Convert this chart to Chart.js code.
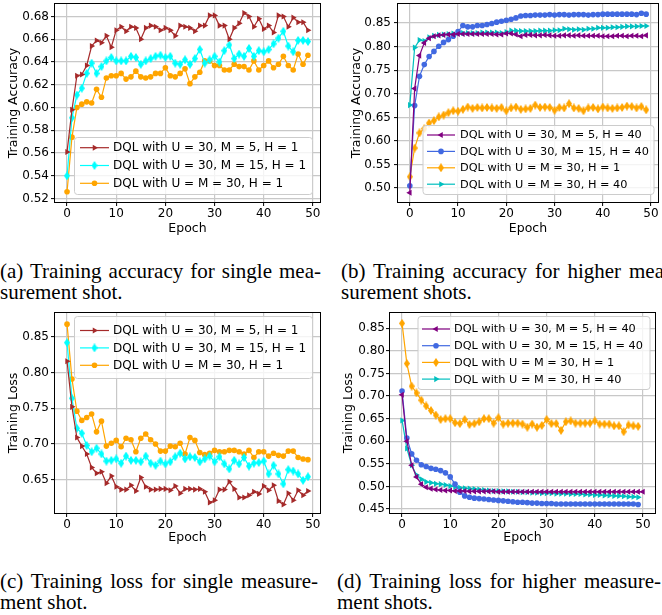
<!DOCTYPE html>
<html lang="en">
<head>
<meta charset="UTF-8">
<title>DQL training accuracy and loss</title>
<script src="https://cdn.jsdelivr.net/npm/chart.js@4.4.1/dist/chart.umd.min.js"></script>
<style>
  body { margin:0; width:662px; height:615px; overflow:hidden; background:#fff; position:relative; }
  canvas { position:absolute; }
  .cap { position:absolute; font-family:"Liberation Serif", serif; font-size:21px; line-height:21px; white-space:nowrap; color:#000; }
  .cap .j { text-align:justify; text-align-last:justify; }
</style>
</head>
<body>

<canvas id="chartA" width="330" height="240" style="left:0;top:0"></canvas>
<canvas id="chartB" width="332" height="240" style="left:330px;top:0"></canvas>
<canvas id="chartC" width="330" height="240" style="left:0;top:305px"></canvas>
<canvas id="chartD" width="332" height="240" style="left:330px;top:305px"></canvas>

<div class="cap" style="left:0;top:261px;width:321px"><div class="j">(a) Training accuracy for single mea-</div><div>surement shot.</div></div>
<div class="cap" style="left:341px;top:261px;width:330px"><div class="j">(b) Training accuracy for higher mea-</div><div>surement shots.</div></div>
<div class="cap" style="left:0;top:571px;width:318px"><div class="j">(c) Training loss for single measure-</div><div>ment shot.</div></div>
<div class="cap" style="left:337px;top:571px;width:324px"><div class="j">(d) Training loss for higher measure-</div><div>ment shots.</div></div>

<script>
// epochs
var epochs = [0,1,2,3,4,5,6,7,8,9,10,11,12,13,14,15,16,17,18,19,20,21,22,23,24,25,26,27,28,29,
              30,31,32,33,34,35,36,37,38,39,40,41,42,43,44,45,46,47,48,49,50];
var epochTicks = [0, 10, 20, 30, 40, 50];

// (a) training accuracy, H = 1
var accA_m5 = [0.561,0.598,0.628,0.629,0.637,0.654,0.659,0.657,0.663,0.653,
               0.668,0.671,0.667,0.671,0.670,0.660,0.670,0.672,0.671,0.668,
               0.670,0.668,0.663,0.672,0.671,0.670,0.667,0.672,0.672,0.681,
               0.681,0.672,0.672,0.660,0.670,0.674,0.683,0.680,0.671,0.678,
               0.669,0.672,0.666,0.681,0.680,0.671,0.679,0.675,0.675,0.668];
var accA_m15 = [0.540,0.591,0.611,0.617,0.630,0.639,0.630,0.636,0.641,0.644,
                0.641,0.641,0.641,0.645,0.644,0.638,0.641,0.643,0.645,0.646,
                0.644,0.645,0.639,0.638,0.642,0.638,0.643,0.651,0.639,0.642,
                0.645,0.640,0.650,0.655,0.643,0.647,0.645,0.652,0.645,0.650,
                0.649,0.651,0.656,0.661,0.667,0.654,0.649,0.659,0.659,0.658];
var accA_m30 = [0.526,0.574,0.600,0.603,0.605,0.604,0.616,0.609,0.626,0.628,
                0.628,0.630,0.625,0.627,0.632,0.627,0.626,0.627,0.630,0.630,
                0.635,0.628,0.627,0.630,0.634,0.621,0.627,0.631,0.641,0.641,
                0.637,0.637,0.633,0.633,0.638,0.636,0.636,0.633,0.641,0.633,
                0.637,0.641,0.635,0.638,0.645,0.637,0.633,0.647,0.638,0.646];
var accTicksA = [0.52,0.54,0.56,0.58,0.60,0.62,0.64,0.66,0.68];

// (b) training accuracy, higher shots
var accB_m5h40 = [0.490,0.711,0.781,0.808,0.818,0.822,0.824,0.825,0.826,0.826,
                  0.827,0.827,0.827,0.827,0.827,0.827,0.827,0.827,0.826,0.826,
                  0.828,0.828,0.826,0.822,0.825,0.825,0.824,0.824,0.825,0.824,
                  0.823,0.823,0.824,0.824,0.823,0.824,0.823,0.823,0.823,0.823,
                  0.822,0.822,0.822,0.823,0.823,0.822,0.823,0.823,0.822,0.824];
var accB_m15h40 = [0.505,0.675,0.737,0.762,0.779,0.790,0.801,0.809,0.815,0.822,
                   0.832,0.845,0.842,0.842,0.845,0.845,0.847,0.849,0.852,0.854,
                   0.856,0.858,0.861,0.865,0.866,0.866,0.867,0.867,0.867,0.868,
                   0.867,0.868,0.868,0.867,0.868,0.868,0.868,0.867,0.868,0.868,
                   0.869,0.869,0.869,0.869,0.869,0.869,0.869,0.868,0.871,0.869];
var accB_m30h1 = [0.524,0.585,0.617,0.626,0.638,0.643,0.651,0.655,0.660,0.664,
                  0.663,0.667,0.672,0.669,0.671,0.670,0.671,0.670,0.669,0.671,
                  0.664,0.670,0.672,0.667,0.668,0.669,0.676,0.671,0.672,0.671,
                  0.665,0.671,0.670,0.679,0.670,0.669,0.664,0.670,0.671,0.668,
                  0.672,0.670,0.669,0.670,0.671,0.674,0.673,0.670,0.673,0.666];
var accB_m30h40 = [0.676,0.798,0.814,0.812,0.820,0.823,0.825,0.826,0.827,0.828,
                   0.829,0.829,0.829,0.829,0.829,0.830,0.830,0.830,0.830,0.829,
                   0.831,0.834,0.834,0.833,0.833,0.833,0.833,0.834,0.834,0.834,
                   0.835,0.835,0.838,0.837,0.836,0.837,0.836,0.838,0.838,0.840,
                   0.840,0.840,0.841,0.841,0.842,0.843,0.843,0.843,0.844,0.844];
var accTicksB = [0.50,0.55,0.60,0.65,0.70,0.75,0.80,0.85];

// (c) training loss, H = 1
var lossC_m5 = [0.816,0.752,0.709,0.697,0.686,0.667,0.659,0.661,0.645,0.655,
                0.640,0.636,0.636,0.642,0.634,0.653,0.640,0.636,0.636,0.637,
                0.637,0.635,0.641,0.631,0.637,0.637,0.636,0.637,0.633,0.618,
                0.621,0.636,0.636,0.647,0.637,0.625,0.625,0.628,0.633,0.630,
                0.641,0.635,0.642,0.620,0.615,0.631,0.621,0.635,0.628,0.634];
var lossC_m15 = [0.842,0.764,0.722,0.715,0.698,0.689,0.694,0.686,0.676,0.677,
                 0.679,0.673,0.683,0.677,0.677,0.675,0.683,0.673,0.670,0.676,
                 0.672,0.675,0.682,0.687,0.679,0.682,0.681,0.675,0.679,0.683,
                 0.675,0.682,0.672,0.665,0.677,0.672,0.681,0.669,0.673,0.674,
                 0.676,0.658,0.670,0.658,0.644,0.664,0.662,0.658,0.649,0.654];
var lossC_m30 = [0.868,0.791,0.746,0.733,0.737,0.742,0.717,0.732,0.697,0.701,
                 0.705,0.696,0.708,0.706,0.689,0.708,0.714,0.706,0.700,0.690,
                 0.690,0.697,0.696,0.701,0.686,0.709,0.705,0.688,0.685,0.687,
                 0.691,0.689,0.689,0.691,0.691,0.689,0.686,0.691,0.681,0.689,
                 0.689,0.683,0.687,0.684,0.683,0.690,0.690,0.681,0.679,0.678];
var lossTicksC = [0.65,0.70,0.75,0.80,0.85];

// (d) training loss, higher shots
var lossD_m5h40 = [0.703,0.600,0.547,0.521,0.505,0.498,0.495,0.493,0.492,0.491,
                   0.491,0.490,0.490,0.490,0.489,0.489,0.489,0.489,0.489,0.489,
                   0.488,0.488,0.488,0.488,0.488,0.488,0.488,0.488,0.488,0.488,
                   0.488,0.488,0.488,0.488,0.488,0.488,0.488,0.488,0.488,0.488,
                   0.488,0.488,0.488,0.488,0.488,0.488,0.488,0.488,0.488,0.488,0.488];
var lossD_m15h40 = [0.711,0.607,0.572,0.558,0.548,0.544,0.540,0.538,0.535,0.530,
                    0.521,0.505,0.487,0.479,0.476,0.474,0.473,0.472,0.471,0.470,
                    0.469,0.468,0.467,0.466,0.465,0.465,0.464,0.463,0.463,0.462,
                    0.462,0.462,0.461,0.461,0.461,0.461,0.461,0.461,0.461,0.461,
                    0.461,0.461,0.461,0.461,0.461,0.461,0.461,0.461,0.461,0.460];
var lossD_m30h1 = [0.861,0.772,0.722,0.707,0.691,0.678,0.668,0.658,0.648,0.650,
                   0.650,0.641,0.639,0.648,0.637,0.639,0.643,0.650,0.650,0.640,
                   0.652,0.638,0.640,0.640,0.640,0.638,0.631,0.638,0.631,0.635,
                   0.648,0.639,0.639,0.624,0.643,0.645,0.640,0.640,0.640,0.640,
                   0.645,0.638,0.638,0.638,0.634,0.634,0.621,0.636,0.634,0.633];
var lossD_m30h40 = [0.646,0.584,0.547,0.525,0.516,0.510,0.508,0.506,0.505,0.503,
                    0.501,0.499,0.497,0.496,0.495,0.494,0.493,0.492,0.491,0.490,
                    0.490,0.489,0.489,0.488,0.488,0.487,0.487,0.486,0.486,0.485,
                    0.485,0.485,0.484,0.484,0.484,0.483,0.483,0.483,0.482,0.482,
                    0.481,0.481,0.480,0.480,0.479,0.479,0.478,0.477,0.477,0.476];
var lossTicksD = [0.45,0.50,0.55,0.60,0.65,0.70,0.75,0.80,0.85];

Chart.defaults.font.family = "'DejaVu Sans', sans-serif";
Chart.defaults.font.size = 12;
Chart.defaults.color = '#000';

// matplotlib-like thin diamond marker
function thinDiamond(color) {
    var c = document.createElement('canvas');
    c.width = 6; c.height = 9;
    var g = c.getContext('2d');
    g.fillStyle = color;
    g.beginPath();
    g.moveTo(3, 0); g.lineTo(6, 4.5); g.lineTo(3, 9); g.lineTo(0, 4.5);
    g.closePath();
    g.fill();
    return c;
}

function series(label, values, color, marker) {
    var ds = {
        label: label,
        data: values.map(function (v, i) { return {x: epochs[i], y: v}; }),
        borderColor: color,
        backgroundColor: color,
        pointBackgroundColor: color,
        pointBorderWidth: 0,
        borderWidth: 1.2,
        tension: 0
    };
    if (marker === 'right' || marker === 'left') {
        ds.pointStyle = 'triangle';
        ds.pointRotation = marker === 'right' ? 90 : -90;
        ds.pointRadius = 3.5;
    } else if (marker === 'circle') {
        ds.pointStyle = 'circle';
        ds.pointRadius = 2.8;
    } else {
        ds.pointStyle = thinDiamond(color);
        ds.pointRadius = 4;
    }
    return ds;
}

function drawMarker(ctx, ds, x, y) {
    var st = ds.pointStyle, r = ds.pointRadius;
    ctx.fillStyle = ds.pointBackgroundColor;
    if (st instanceof HTMLCanvasElement) {
        ctx.drawImage(st, x - st.width / 2, y - st.height / 2);
        return;
    }
    ctx.beginPath();
    if (st === 'circle') {
        ctx.arc(x, y, r, 0, Math.PI * 2);
    } else {
        var a = ds.pointRotation * Math.PI / 180;
        for (var k = 0; k < 3; k++) {
            var px = x + Math.sin(a) * r, py = y - Math.cos(a) * r;
            if (k === 0) ctx.moveTo(px, py); else ctx.lineTo(px, py);
            a += Math.PI * 2 / 3;
        }
        ctx.closePath();
    }
    ctx.fill();
}

// legend box inside the axes
var boxLegend = {
    id: 'boxLegend',
    afterDraw: function (chart, args, o) {
        var ctx = chart.ctx, sets = chart.data.datasets;
        ctx.save();
        ctx.beginPath();
        ctx.roundRect(o.x + 0.5, o.y + 0.5, o.w, o.h, 3);
        ctx.fillStyle = 'rgba(255,255,255,0.8)';
        ctx.fill();
        ctx.strokeStyle = '#cccccc';
        ctx.lineWidth = 1;
        ctx.stroke();
        ctx.font = o.font + "px 'DejaVu Sans'";
        ctx.textBaseline = 'middle';
        sets.forEach(function (ds, i) {
            var y = o.row0 + i * o.pitch;
            ctx.strokeStyle = ds.borderColor;
            ctx.lineWidth = 1.2;
            ctx.beginPath();
            ctx.moveTo(o.line0, y);
            ctx.lineTo(o.line1, y);
            ctx.stroke();
            drawMarker(ctx, ds, (o.line0 + o.line1) / 2, y);
            ctx.fillStyle = '#000';
            ctx.fillText(ds.label, o.text, y + 0.5);
        });
        ctx.restore();
    }
};

var frame = {
    id: 'frame',
    afterDatasetsDraw: function (chart) {
        var a = chart.chartArea, ctx = chart.ctx;
        ctx.save();
        ctx.strokeStyle = '#000';
        ctx.lineWidth = 1;
        ctx.strokeRect(a.left - 0.5, a.top - 0.5, a.right - a.left + 1, a.bottom - a.top + 1);
        ctx.restore();
    }
};

function makeChart(id, p) {
    return new Chart(document.getElementById(id), {
        type: 'line',
        data: {datasets: p.datasets},
        options: {
            responsive: false,
            animation: false,
            events: [],
            layout: {padding: p.pad},
            plugins: {legend: {display: false}, tooltip: {enabled: false}, boxLegend: p.legend},
            scales: {
                x: {
                    type: 'linear', min: p.xMin, max: p.xMax,
                    afterBuildTicks: function (s) { s.ticks = epochTicks.map(function (v) { return {value: v}; }); },
                    afterFit: function (s) { s.height = p.xHeight; s.paddingLeft = 0; s.paddingRight = 0; },
                    grid: {color: '#c8c8c8', lineWidth: 1.2, tickLength: 4, tickColor: '#000', tickWidth: 1},
                    border: {display: false},
                    ticks: {padding: 1, maxRotation: 0, autoSkip: false, callback: function (v) { return String(v); }},
                    title: {display: true, text: 'Epoch', font: {size: 12.5}, padding: {top: 0, bottom: p.xTitlePad}}
                },
                y: {
                    type: 'linear', min: p.yMin, max: p.yMax,
                    afterBuildTicks: function (s) { s.ticks = p.yTicks.map(function (v) { return {value: v}; }); },
                    afterFit: function (s) { s.width = p.yWidth; s.paddingTop = 0; s.paddingBottom = 0; },
                    grid: {color: '#c8c8c8', lineWidth: 1.2, tickLength: 4, tickColor: '#000', tickWidth: 1},
                    border: {display: false},
                    ticks: {padding: p.yTickPad, autoSkip: false, callback: function (v) { return v.toFixed(2); }},
                    title: {display: true, text: p.yTitle, font: {size: 12.5}, padding: {top: p.yTitlePad, bottom: 0}}
                }
            }
        },
        plugins: [frame, boxLegend]
    });
}

var BROWN = '#a52a2a', CYAN = '#00ffff', ORANGE = '#ffa500';
var PURPLE = '#800080', BLUE = '#4169e1', TEAL = '#00bfbf';

makeChart('chartA', {
    datasets: [
        series('DQL with U = 30, M = 5, H = 1', accA_m5, BROWN, 'right'),
        series('DQL with U = 30, M = 15, H = 1', accA_m15, CYAN, 'diamond'),
        series('DQL with U = M = 30, H = 1', accA_m30, ORANGE, 'circle')
    ],
    pad: {left: 0, top: 2, right: 10, bottom: 0},
    xMin: -2.45, xMax: 51.45, xHeight: 38, xTitlePad: 4,
    yMin: 0.517, yMax: 0.691, yTicks: accTicksA, yWidth: 55, yTickPad: 2,
    yTitle: 'Training Accuracy', yTitlePad: 6,
    legend: {x: 74, y: 137, w: 238, h: 57, row0: 147.7, pitch: 17.8, line0: 80, line1: 109, text: 113, font: 12}
});

makeChart('chartB', {
    datasets: [
        series('DQL with U = 30, M = 5, H = 40', accB_m5h40, PURPLE, 'left'),
        series('DQL with U = 30, M = 15, H = 40', accB_m15h40, BLUE, 'circle'),
        series('DQL with U = M = 30, H = 1', accB_m30h1, ORANGE, 'diamond'),
        series('DQL with U = M = 30, H = 40', accB_m30h40, TEAL, 'right')
    ],
    pad: {left: 0, top: 2, right: 2, bottom: 0},
    xMin: -2.45, xMax: 51.45, xHeight: 38, xTitlePad: 4,
    yMin: 0.4705, yMax: 0.8905, yTicks: accTicksB, yWidth: 68, yTickPad: 3,
    yTitle: 'Training Accuracy', yTitlePad: 19,
    legend: {x: 92.5, y: 125, w: 231, h: 69, row0: 135, pitch: 16.4, line0: 97, line1: 125, text: 130, font: 11.3}
});

makeChart('chartC', {
    datasets: [
        series('DQL with U = 30, M = 5, H = 1', lossC_m5, BROWN, 'right'),
        series('DQL with U = 30, M = 15, H = 1', lossC_m15, CYAN, 'diamond'),
        series('DQL with U = M = 30, H = 1', lossC_m30, ORANGE, 'circle')
    ],
    pad: {left: 0, top: 8, right: 10, bottom: 0},
    xMin: -2.45, xMax: 51.45, xHeight: 32, xTitlePad: 0,
    yMin: 0.6032, yMax: 0.8836, yTicks: lossTicksC, yWidth: 55, yTickPad: 2,
    yTitle: 'Training Loss', yTitlePad: 6,
    legend: {x: 74, y: 11, w: 238, h: 62, row0: 25.5, pitch: 17.4, line0: 80, line1: 109, text: 113, font: 12}
});

makeChart('chartD', {
    datasets: [
        series('DQL with U = 30, M = 5, H = 40', lossD_m5h40, PURPLE, 'left'),
        series('DQL with U = 30, M = 15, H = 40', lossD_m15h40, BLUE, 'circle'),
        series('DQL with U = M = 30, H = 1', lossD_m30h1, ORANGE, 'diamond'),
        series('DQL with U = M = 30, H = 40', lossD_m30h40, TEAL, 'right')
    ],
    pad: {left: 0, top: 8, right: 7, bottom: 0},
    xMin: -2.5, xMax: 52.5, xHeight: 32, xTitlePad: 0,
    yMin: 0.4411, yMax: 0.8839, yTicks: lossTicksD, yWidth: 60, yTickPad: 1,
    yTitle: 'Training Loss', yTitlePad: 11,
    legend: {x: 87.5, y: 11, w: 232, h: 73, row0: 24, pitch: 16.7, line0: 92, line1: 120, text: 124, font: 11.3}
});
</script>
</body>
</html>
